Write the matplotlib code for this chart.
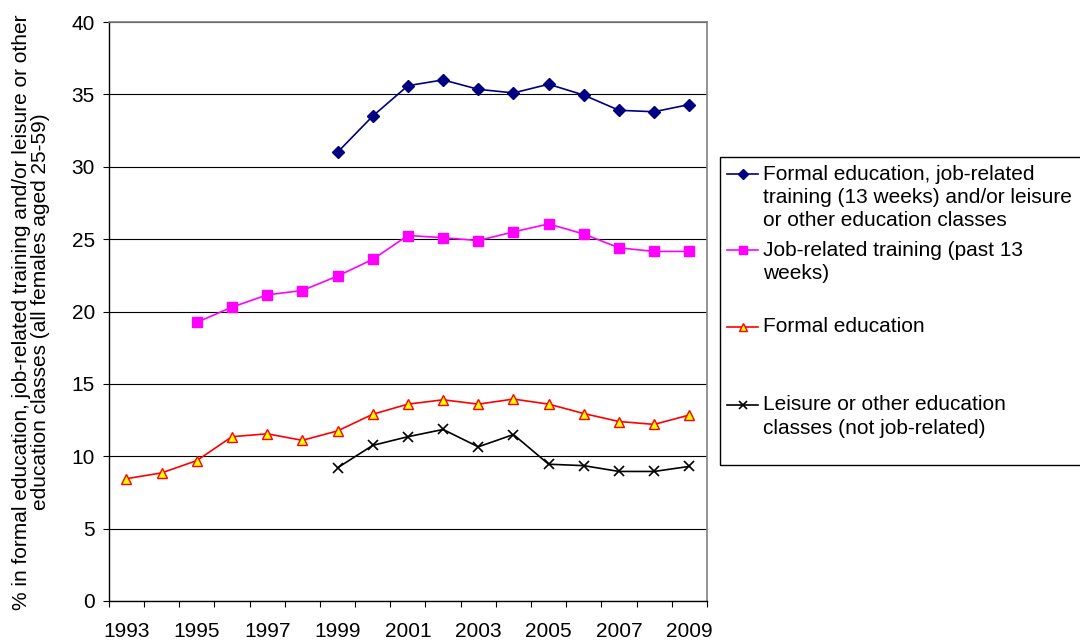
import matplotlib
matplotlib.use("Agg")
import matplotlib.pyplot as plt
from matplotlib.lines import Line2D
from matplotlib.patches import Rectangle

plt.rcParams['font.family'] = ['Liberation Sans', 'DejaVu Sans']

years = list(range(1993, 2010))
year_labels = [str(y) for y in years[::2]]

# Participation rates, % of females aged 25-59
any_learning_years = list(range(1999, 2010))
any_learning = [31.0, 33.5, 35.6, 36.0, 35.35, 35.1, 35.7, 34.95, 33.9, 33.8, 34.3]

job_training_years = list(range(1995, 2010))
job_training = [19.25, 20.3, 21.15, 21.45, 22.45, 23.6, 25.25, 25.1, 24.9, 25.5,
                26.05, 25.35, 24.4, 24.15, 24.15]

formal_years = list(range(1993, 2010))
formal = [8.45, 8.85, 9.7, 11.35, 11.55, 11.1, 11.75, 12.9, 13.6, 13.9, 13.6,
          13.95, 13.6, 12.95, 12.4, 12.2, 12.85]

leisure_years = list(range(1999, 2010))
leisure = [9.2, 10.75, 11.35, 11.85, 10.65, 11.5, 9.45, 9.35, 8.95, 8.95, 9.3]

series = [
    (any_learning_years, any_learning,
     "Formal education, job-related\ntraining (13 weeks) and/or leisure\nor other education classes",
     dict(color='#000080', marker='D', ms=6, mfc='#000080', mec='#000080')),
    (job_training_years, job_training,
     "Job-related training (past 13\nweeks)",
     dict(color='#FF00FF', marker='s', ms=7, mfc='#FF00FF', mec='#FF00FF')),
    (formal_years, formal,
     "Formal education",
     dict(color='#FF0000', marker='^', ms=7, mfc='#FFFF00', mec='#FF0000', mew=1.0)),
    (leisure_years, leisure,
     "Leisure or other education\nclasses (not job-related)",
     dict(color='#000000', marker='x', ms=7, mec='#000000', mew=1.2)),
]

FS = 15
W, H = 1080, 643
fig = plt.figure(figsize=(W / 100, H / 100), dpi=100)
ax = fig.add_axes([108.8 / W, 1 - 601 / H, (707 - 108.8) / W, (601 - 22) / H])

def pos(yrs):
    return [y - years[0] + 0.5 for y in yrs]

for yrs, vals, label, style in series:
    ax.plot(pos(yrs), vals, lw=1.2, zorder=3, **style)

ax.set_xlim(0, len(years))
ax.set_ylim(0, 40)
ax.set_yticks(range(0, 41, 5))
ax.yaxis.grid(True, color='black', lw=0.8)
ax.set_axisbelow(True)

ax.set_xticks(range(0, len(years) + 1))
ax.set_xticklabels([])
ax.set_xticks(pos(years[::2]), minor=True)
ax.set_xticklabels(year_labels, minor=True)
ax.tick_params(axis='x', which='major', direction='out', length=4, width=0.8)
ax.tick_params(axis='x', which='minor', length=0, pad=15, labelsize=FS)
ax.tick_params(axis='y', direction='out', length=4, width=0.8, pad=6, labelsize=FS)

for s in ('top', 'right'):
    ax.spines[s].set_color('#808080')
    ax.spines[s].set_linewidth(1.2)
for s in ('left', 'bottom'):
    ax.spines[s].set_color('black')
    ax.spines[s].set_linewidth(1.0)

fig.text(31 / W, 1 - 312 / H,
         "% in formal education, job-related training and/or leisure or other\n"
         "education classes (all females aged 25-59)",
         rotation=90, ha='center', va='center', fontsize=FS,
         multialignment='center', linespacing=0.98)

# Legend box, each entry aligned to its first text line
fig.patches.append(Rectangle((720 / W, 1 - 465 / H), 400 / W, (465 - 157) / H,
                             transform=fig.transFigure, fill=False,
                             edgecolor='black', lw=1.0))
first_line_y = [174, 250, 327, 405]
line_step = 23.3
for (yrs, vals, label, style), y0 in zip(series, first_line_y):
    st = dict(style)
    marker = st.pop('marker')
    ms = st.pop('ms') * 0.8
    yf = 1 - y0 / H
    fig.lines.append(Line2D([727 / W, 758 / W], [yf, yf],
                            transform=fig.transFigure, lw=1.2, color=st['color']))
    fig.lines.append(Line2D([742.5 / W], [yf], transform=fig.transFigure,
                            linestyle='none', marker=marker, ms=ms,
                            **{k: v for k, v in st.items() if k != 'color'}))
    for i, line in enumerate(label.split("\n")):
        fig.text(763 / W, 1 - (y0 + i * line_step) / H, line,
                 ha='left', va='center', fontsize=FS)

fig.savefig("out.png", dpi=100)
